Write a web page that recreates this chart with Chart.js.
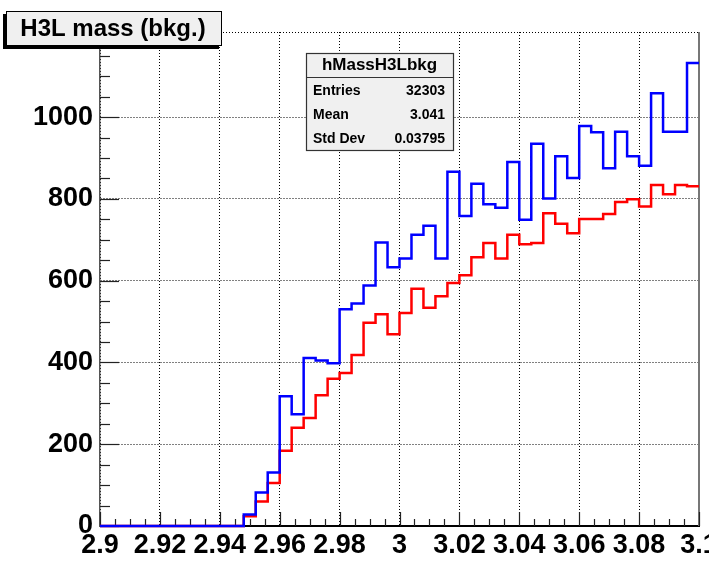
<!DOCTYPE html>
<html><head><meta charset="utf-8">
<script src="https://cdn.jsdelivr.net/npm/chart.js@4/dist/chart.umd.min.js"></script>
<style>html,body{margin:0;padding:0;background:#fff}#wrap{width:709px;height:561px;position:relative}</style>
</head><body><div id="wrap"><canvas id="c" width="709" height="561"></canvas></div>
<script>
// Histogram bin lower edges (50 bins, width 0.004)
const binLowEdges = [2.900,2.904,2.908,2.912,2.916,2.920,2.924,2.928,2.932,2.936,
                     2.940,2.944,2.948,2.952,2.956,2.960,2.964,2.968,2.972,2.976,
                     2.980,2.984,2.988,2.992,2.996,3.000,3.004,3.008,3.012,3.016,
                     3.020,3.024,3.028,3.032,3.036,3.040,3.044,3.048,3.052,3.056,
                     3.060,3.064,3.068,3.072,3.076,3.080,3.084,3.088,3.092,3.096];
const histUpperEdge = 3.1;
const bkgBlue = [0,0,0,0,0,0,0,0,0,0,0,0,
  28,82,131,317,273,411,405,398,530,544,
  588,693,633,654,712,734,654,866,758,837,
  787,778,890,749,935,801,904,851,978,963,
  875,964,904,881,1058,964,964,1132];
const bkgRed = [0,0,0,0,0,0,0,0,0,0,0,0,
  24,60,105,184,240,264,320,360,374,418,
  497,518,469,521,580,534,562,594,613,657,
  692,654,712,689,692,765,739,716,751,751,
  763,792,799,781,834,811,834,831];
const xTickValues = [2.9,2.92,2.94,2.96,2.98,3.0,3.02,3.04,3.06,3.08,3.1];
const xTickLabels = ['2.9','2.92','2.94','2.96','2.98','3','3.02','3.04','3.06','3.08','3.1'];
const yTickValues = [0,200,400,600,800,1000];
const yTickLabels = ['0','200','400','600','800','1000'];
const titleText = 'H3L mass (bkg.)';
const statsTitle = 'hMassH3Lbkg';
const statsNames = ['Entries','Mean','Std Dev'];
const statsValues = ['32303','3.041','0.03795'];

const FONT = "'Liberation Sans', Arial, Helvetica, sans-serif";

function histPoints(vals){
  const pts = binLowEdges.map((x,i)=>({x:x, y:vals[i]}));
  pts.push({x:histUpperEdge, y:vals[vals.length-1]});
  return pts;
}

const rootDecor = {
  id:'rootDecor',
  beforeDatasetsDraw(chart){
    const ctx = chart.ctx, xs = chart.scales.x, ys = chart.scales.y, a = chart.chartArea;
    ctx.save();
    ctx.strokeStyle = '#000'; ctx.lineWidth = 1; ctx.setLineDash([1,2]);
    ctx.beginPath(); ctx.moveTo(a.left, a.top+0.5); ctx.lineTo(a.right, a.top+0.5); ctx.stroke();
    ctx.setLineDash([]);
    ctx.strokeStyle = '#777'; ctx.lineWidth = 2;
    ctx.beginPath(); ctx.moveTo(a.right, a.top); ctx.lineTo(a.right, a.bottom); ctx.stroke();
    ctx.strokeStyle = '#222'; ctx.lineWidth = 1.2;
    for (let v = 0; v <= 1200; v += 50){
      const y = Math.round(ys.getPixelForValue(v))+0.5;
      if (y < a.top) continue;
      const len = (v % 200 === 0) ? 19 : 10;
      ctx.beginPath(); ctx.moveTo(a.left, y); ctx.lineTo(a.left+len, y); ctx.stroke();
    }
    for (let k = 0; k <= 40; k++){
      const v = 2.9 + k*0.005;
      const x = Math.round(xs.getPixelForValue(v))+0.5;
      const len = (k % 4 === 0) ? 14 : 7;
      ctx.beginPath(); ctx.moveTo(x, a.bottom); ctx.lineTo(x, a.bottom-len); ctx.stroke();
    }
    ctx.restore();
  },
  afterDraw(chart){
    const ctx = chart.ctx;
    ctx.save();
    ctx.fillStyle = '#000';
    ctx.fillRect(3, 14, 216, 35);
    ctx.fillStyle = '#f0f0f0';
    ctx.fillRect(6, 11, 216, 35);
    ctx.strokeStyle = '#000'; ctx.lineWidth = 1;
    ctx.strokeRect(6.5, 11.5, 215, 34);
    ctx.fillStyle = '#000';
    ctx.font = "bold 24px " + FONT;
    ctx.textAlign = 'center'; ctx.textBaseline = 'middle';
    ctx.fillText(titleText, 113, 29);
    const L = 306, T = 53, W = 147, H = 97;
    ctx.fillStyle = '#f0f0f0';
    ctx.fillRect(L, T, W, H);
    ctx.strokeStyle = '#333'; ctx.lineWidth = 1.2;
    ctx.strokeRect(L+0.5, T+0.5, W, H);
    ctx.beginPath(); ctx.moveTo(L, 77.5); ctx.lineTo(L+W, 77.5); ctx.stroke();
    ctx.fillStyle = '#000';
    ctx.font = "bold 17px " + FONT;
    ctx.textAlign = 'center';
    ctx.fillText(statsTitle, L+W/2, 65);
    ctx.font = "bold 14px " + FONT;
    const rowY = [91, 115, 139];
    for (let i = 0; i < statsNames.length; i++){
      ctx.textAlign = 'left'; ctx.fillText(statsNames[i], 313, rowY[i]);
      ctx.textAlign = 'right'; ctx.fillText(statsValues[i], 445, rowY[i]);
    }
    ctx.restore();
  }
};

new Chart(document.getElementById('c'), {
  type:'line',
  data:{
    datasets:[
      {label:'blue', data:histPoints(bkgBlue), borderColor:'#0000ff', borderWidth:2.5, stepped:true, pointRadius:0, fill:false, clip:false},
      {label:'red', data:histPoints(bkgRed), borderColor:'#ff0000', borderWidth:2.5, stepped:true, pointRadius:0, fill:false, clip:false}
    ]
  },
  options:{
    responsive:false, animation:false, devicePixelRatio:1,
    layout:{padding:{left:0,right:10,top:32,bottom:0}, autoPadding:false},
    plugins:{legend:{display:false}, tooltip:{enabled:false}},
    scales:{
      x:{
        type:'linear', min:2.9, max:3.1,
        afterBuildTicks:s=>{ s.ticks = xTickValues.map(v=>({value:v})); },
        afterFit:s=>{ s.height = 35; s.paddingLeft = 0; s.paddingRight = 0; },
        ticks:{callback:(v,i)=>xTickLabels[i], autoSkip:false, maxRotation:0, color:'#000', padding:3,
               font:{family:FONT, weight:'bold', size:27}},
        grid:{color:'#000', lineWidth:1, drawTicks:false, tickLength:0},
        border:{display:true, color:'#000', width:2, dash:[1,2]}
      },
      y:{
        type:'linear', min:0, max:1208,
        afterBuildTicks:s=>{ s.ticks = yTickValues.map(v=>({value:v})); },
        afterFit:s=>{ s.width = 100; s.paddingTop = 0; s.paddingBottom = 0; },
        ticks:{callback:(v,i)=>yTickLabels[i], autoSkip:false, color:'#000', padding:7,
               font:{family:FONT, weight:'bold', size:27}},
        grid:{color:'#000', lineWidth:1, drawTicks:false, tickLength:0},
        border:{display:true, color:'#555', width:1.5, dash:[1,2]}
      }
    }
  },
  plugins:[rootDecor]
});
</script>
</body></html>
